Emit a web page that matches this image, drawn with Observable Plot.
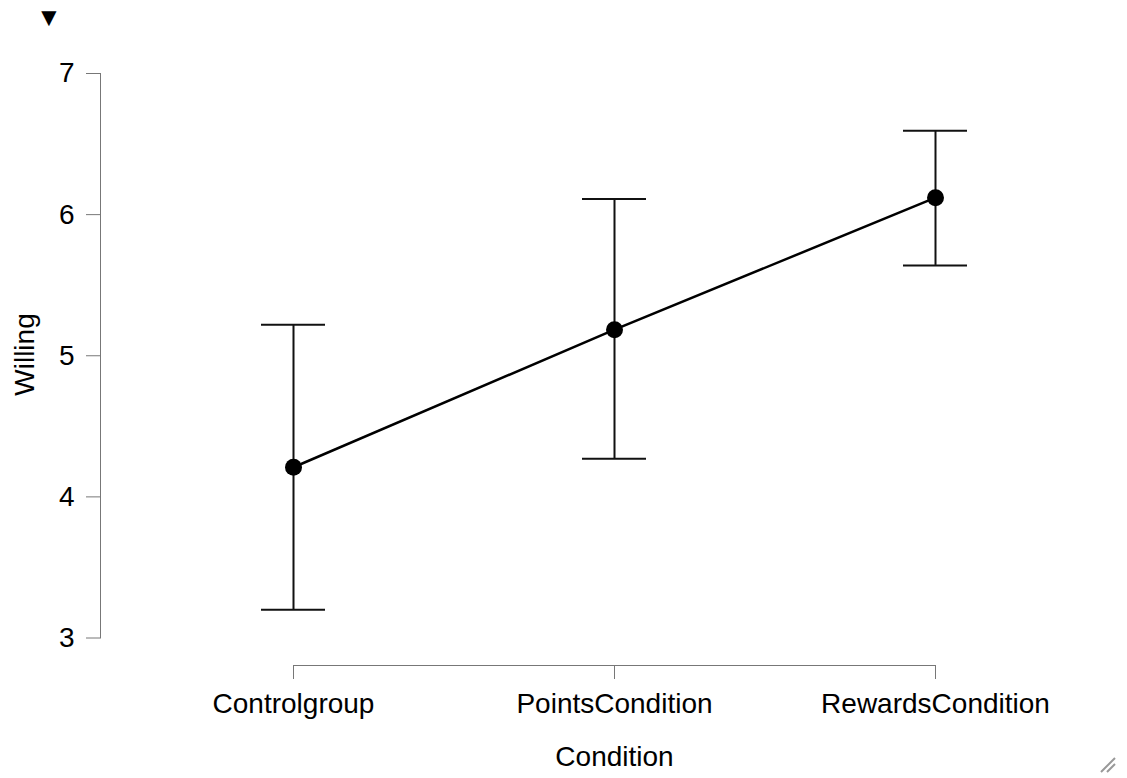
<!DOCTYPE html>
<html>
<head>
<meta charset="utf-8">
<script src="https://cdn.jsdelivr.net/npm/d3@7"></script>
<script src="https://cdn.jsdelivr.net/npm/@observablehq/plot@0.6"></script>
<style>
  html, body { margin: 0; padding: 0; background: #fff; }
  #wrap { position: relative; width: 1127px; height: 778px; font-family: "Liberation Sans", Arial, sans-serif; }
  #tri { position: absolute; left: 36px; top: 4px; font-size: 26px; line-height: 26px; color: #000; }
  #grip { position: absolute; right: 10px; bottom: 4px; }
</style>
</head>
<body>
<div id="wrap">
  <div id="tri">▼</div>
</div>
<script>
const conditions = ["Controlgroup", "PointsCondition", "RewardsCondition"];
const means = [4.21, 5.185, 6.12];
const lower = [3.20, 4.27, 5.64];
const upper = [5.22, 6.11, 6.595];
const yTicks = [3, 4, 5, 6, 7];

const data = conditions.map((c, i) => ({condition: c, mean: means[i], lo: lower[i], hi: upper[i]}));

const FS = 28;
const chart = Plot.plot({
  width: 1127,
  height: 778,
  marginTop: 73,
  marginLeft: 100,
  marginRight: 0,
  marginBottom: 113,
  style: {fontFamily: "'Liberation Sans', Arial, sans-serif", fontSize: FS + "px", color: "#000", background: "#fff"},
  x: {type: "point", domain: conditions, padding: 0.597, label: null},
  y: {domain: [3, 7], insetBottom: 27.5, label: null},
  marks: [
    Plot.frame({anchor: "left", insetBottom: 27.5, stroke: "#777", strokeWidth: 1}),
    Plot.ruleY([3], {x1: () => conditions[0], x2: () => conditions[conditions.length - 1], dy: 27.5, stroke: "#777", strokeWidth: 1}),
    Plot.axisY({ticks: yTicks, tickSize: 14, tickPadding: 12, stroke: "#777", fontSize: FS, label: null, tickFormat: d3.format("d")}),
    Plot.axisX({tickSize: 14, tickPadding: 14, stroke: "#777", fontSize: FS, label: null}),
    Plot.text(["Willing"], {frameAnchor: "left", rotate: -90, textAnchor: "middle", lineAnchor: "middle", dx: -75, dy: -15, fontSize: FS, fill: "#000"}),
    Plot.text(["Condition"], {x: () => conditions[1], frameAnchor: "bottom", lineAnchor: "middle", dy: 92, fontSize: FS, fill: "#000"}),
    Plot.ruleX(data, {x: "condition", y1: "lo", y2: "hi", stroke: "#111", strokeWidth: 2}),
    Plot.ruleY(data, {x1: "condition", x2: "condition", y: "lo", insetLeft: -32, insetRight: -32, stroke: "#111", strokeWidth: 2}),
    Plot.ruleY(data, {x1: "condition", x2: "condition", y: "hi", insetLeft: -32, insetRight: -32, stroke: "#111", strokeWidth: 2}),
    Plot.line(data, {x: "condition", y: "mean", stroke: "#000", strokeWidth: 2.5}),
    Plot.dot(data, {x: "condition", y: "mean", r: 8.5, fill: "#000", stroke: "none"})
  ]
});
const wrap = document.getElementById("wrap");
wrap.insertBefore(chart, wrap.firstChild);
const grip = document.createElementNS("http://www.w3.org/2000/svg", "svg");
grip.setAttribute("id", "grip");
grip.setAttribute("width", "20");
grip.setAttribute("height", "20");
grip.innerHTML = '<path d="M4 18 L18 4 M10 18 L18 10" stroke="#999" stroke-width="2"/>';
wrap.appendChild(grip);
</script>
</body>
</html>
